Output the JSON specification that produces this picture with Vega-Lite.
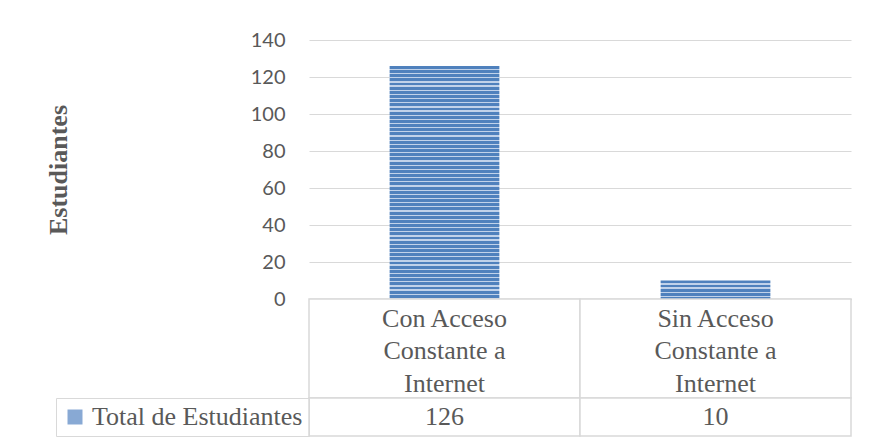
{
  "$schema": "https://vega.github.io/schema/vega-lite/v6.json",
  "padding": {"left": 45, "top": 30, "right": 20, "bottom": 9},
  "background": "white",
  "data": {
    "values": [
      {"acceso": "Con Acceso\nConstante a\nInternet", "estudiantes": 126, "serie": "Total de Estudiantes"},
      {"acceso": "Sin Acceso\nConstante a\nInternet", "estudiantes": 10, "serie": "Total de Estudiantes"}
    ]
  },
  "spacing": 0,
  "bounds": "flush",
  "resolve": {"scale": {"shape": "independent"}, "legend": {"shape": "independent"}},
  "config": {
    "view": {"stroke": null},
    "text": {"font": "Liberation Serif"}
  },
  "vconcat": [
    {
      "width": 542,
      "height": 259,
      "mark": {"type": "bar", "width": {"band": 0.405}},
      "encoding": {
        "x": {
          "field": "acceso",
          "type": "nominal",
          "scale": {"paddingInner": 0, "paddingOuter": 0},
          "axis": {"title": null, "labels": false, "ticks": false, "domainColor": "#bfbfbf", "domainWidth": 1.5}
        },
        "y": {
          "field": "estudiantes",
          "type": "quantitative",
          "scale": {"domain": [0, 140]},
          "axis": {
            "values": [0, 20, 40, 60, 80, 100, 120, 140],
            "grid": true,
            "gridColor": "#d9d9d9",
            "gridWidth": 1,
            "domain": false,
            "ticks": false,
            "labelFont": "Lato",
            "labelFontSize": 20,
            "labelColor": "#595959",
            "labelPadding": 24,
            "title": "Estudiantes",
            "titleFont": "Liberation Serif",
            "titleFontSize": 26,
            "titleFontWeight": "bold",
            "titleColor": "#595959",
            "titleX": -251,
            "titleY": 129.5,
            "titleAngle": -90,
            "titleAlign": "center",
            "titleBaseline": "middle"
          }
        },
        "fill": {
          "condition": {
            "test": "datum.estudiantes > 50",
            "value": {
              "gradient": "linear", "x1": 0, "y1": 0, "x2": 0, "y2": 1,
              "stops": [
                {"offset":0,"color":"#4f81bd"},{"offset":0.0125,"color":"#4f81bd"},{"offset":0.0125,"color":"#c0d2ea"},{"offset":0.0179,"color":"#c0d2ea"},
                {"offset":0.0179,"color":"#4f81bd"},{"offset":0.0304,"color":"#4f81bd"},{"offset":0.0304,"color":"#c0d2ea"},{"offset":0.0357,"color":"#c0d2ea"},
                {"offset":0.0357,"color":"#4f81bd"},{"offset":0.0482,"color":"#4f81bd"},{"offset":0.0482,"color":"#c0d2ea"},{"offset":0.0536,"color":"#c0d2ea"},
                {"offset":0.0536,"color":"#4f81bd"},{"offset":0.0661,"color":"#4f81bd"},{"offset":0.0661,"color":"#c0d2ea"},{"offset":0.0714,"color":"#c0d2ea"},
                {"offset":0.0714,"color":"#4f81bd"},{"offset":0.0839,"color":"#4f81bd"},{"offset":0.0839,"color":"#c0d2ea"},{"offset":0.0893,"color":"#c0d2ea"},
                {"offset":0.0893,"color":"#4f81bd"},{"offset":0.1018,"color":"#4f81bd"},{"offset":0.1018,"color":"#c0d2ea"},{"offset":0.1071,"color":"#c0d2ea"},
                {"offset":0.1071,"color":"#4f81bd"},{"offset":0.1196,"color":"#4f81bd"},{"offset":0.1196,"color":"#c0d2ea"},{"offset":0.125,"color":"#c0d2ea"},
                {"offset":0.125,"color":"#4f81bd"},{"offset":0.1375,"color":"#4f81bd"},{"offset":0.1375,"color":"#c0d2ea"},{"offset":0.1429,"color":"#c0d2ea"},
                {"offset":0.1429,"color":"#4f81bd"},{"offset":0.1554,"color":"#4f81bd"},{"offset":0.1554,"color":"#c0d2ea"},{"offset":0.1607,"color":"#c0d2ea"},
                {"offset":0.1607,"color":"#4f81bd"},{"offset":0.1732,"color":"#4f81bd"},{"offset":0.1732,"color":"#c0d2ea"},{"offset":0.1786,"color":"#c0d2ea"},
                {"offset":0.1786,"color":"#4f81bd"},{"offset":0.1911,"color":"#4f81bd"},{"offset":0.1911,"color":"#c0d2ea"},{"offset":0.1964,"color":"#c0d2ea"},
                {"offset":0.1964,"color":"#4f81bd"},{"offset":0.2089,"color":"#4f81bd"},{"offset":0.2089,"color":"#c0d2ea"},{"offset":0.2143,"color":"#c0d2ea"},
                {"offset":0.2143,"color":"#4f81bd"},{"offset":0.2268,"color":"#4f81bd"},{"offset":0.2268,"color":"#c0d2ea"},{"offset":0.2321,"color":"#c0d2ea"},
                {"offset":0.2321,"color":"#4f81bd"},{"offset":0.2446,"color":"#4f81bd"},{"offset":0.2446,"color":"#c0d2ea"},{"offset":0.25,"color":"#c0d2ea"},
                {"offset":0.25,"color":"#4f81bd"},{"offset":0.2625,"color":"#4f81bd"},{"offset":0.2625,"color":"#c0d2ea"},{"offset":0.2679,"color":"#c0d2ea"},
                {"offset":0.2679,"color":"#4f81bd"},{"offset":0.2804,"color":"#4f81bd"},{"offset":0.2804,"color":"#c0d2ea"},{"offset":0.2857,"color":"#c0d2ea"},
                {"offset":0.2857,"color":"#4f81bd"},{"offset":0.2982,"color":"#4f81bd"},{"offset":0.2982,"color":"#c0d2ea"},{"offset":0.3036,"color":"#c0d2ea"},
                {"offset":0.3036,"color":"#4f81bd"},{"offset":0.3161,"color":"#4f81bd"},{"offset":0.3161,"color":"#c0d2ea"},{"offset":0.3214,"color":"#c0d2ea"},
                {"offset":0.3214,"color":"#4f81bd"},{"offset":0.3339,"color":"#4f81bd"},{"offset":0.3339,"color":"#c0d2ea"},{"offset":0.3393,"color":"#c0d2ea"},
                {"offset":0.3393,"color":"#4f81bd"},{"offset":0.3518,"color":"#4f81bd"},{"offset":0.3518,"color":"#c0d2ea"},{"offset":0.3571,"color":"#c0d2ea"},
                {"offset":0.3571,"color":"#4f81bd"},{"offset":0.3696,"color":"#4f81bd"},{"offset":0.3696,"color":"#c0d2ea"},{"offset":0.375,"color":"#c0d2ea"},
                {"offset":0.375,"color":"#4f81bd"},{"offset":0.3875,"color":"#4f81bd"},{"offset":0.3875,"color":"#c0d2ea"},{"offset":0.3929,"color":"#c0d2ea"},
                {"offset":0.3929,"color":"#4f81bd"},{"offset":0.4054,"color":"#4f81bd"},{"offset":0.4054,"color":"#c0d2ea"},{"offset":0.4107,"color":"#c0d2ea"},
                {"offset":0.4107,"color":"#4f81bd"},{"offset":0.4232,"color":"#4f81bd"},{"offset":0.4232,"color":"#c0d2ea"},{"offset":0.4286,"color":"#c0d2ea"},
                {"offset":0.4286,"color":"#4f81bd"},{"offset":0.4411,"color":"#4f81bd"},{"offset":0.4411,"color":"#c0d2ea"},{"offset":0.4464,"color":"#c0d2ea"},
                {"offset":0.4464,"color":"#4f81bd"},{"offset":0.4589,"color":"#4f81bd"},{"offset":0.4589,"color":"#c0d2ea"},{"offset":0.4643,"color":"#c0d2ea"},
                {"offset":0.4643,"color":"#4f81bd"},{"offset":0.4768,"color":"#4f81bd"},{"offset":0.4768,"color":"#c0d2ea"},{"offset":0.4821,"color":"#c0d2ea"},
                {"offset":0.4821,"color":"#4f81bd"},{"offset":0.4946,"color":"#4f81bd"},{"offset":0.4946,"color":"#c0d2ea"},{"offset":0.5,"color":"#c0d2ea"},
                {"offset":0.5,"color":"#4f81bd"},{"offset":0.5125,"color":"#4f81bd"},{"offset":0.5125,"color":"#c0d2ea"},{"offset":0.5179,"color":"#c0d2ea"},
                {"offset":0.5179,"color":"#4f81bd"},{"offset":0.5304,"color":"#4f81bd"},{"offset":0.5304,"color":"#c0d2ea"},{"offset":0.5357,"color":"#c0d2ea"},
                {"offset":0.5357,"color":"#4f81bd"},{"offset":0.5482,"color":"#4f81bd"},{"offset":0.5482,"color":"#c0d2ea"},{"offset":0.5536,"color":"#c0d2ea"},
                {"offset":0.5536,"color":"#4f81bd"},{"offset":0.5661,"color":"#4f81bd"},{"offset":0.5661,"color":"#c0d2ea"},{"offset":0.5714,"color":"#c0d2ea"},
                {"offset":0.5714,"color":"#4f81bd"},{"offset":0.5839,"color":"#4f81bd"},{"offset":0.5839,"color":"#c0d2ea"},{"offset":0.5893,"color":"#c0d2ea"},
                {"offset":0.5893,"color":"#4f81bd"},{"offset":0.6018,"color":"#4f81bd"},{"offset":0.6018,"color":"#c0d2ea"},{"offset":0.6071,"color":"#c0d2ea"},
                {"offset":0.6071,"color":"#4f81bd"},{"offset":0.6196,"color":"#4f81bd"},{"offset":0.6196,"color":"#c0d2ea"},{"offset":0.625,"color":"#c0d2ea"},
                {"offset":0.625,"color":"#4f81bd"},{"offset":0.6375,"color":"#4f81bd"},{"offset":0.6375,"color":"#c0d2ea"},{"offset":0.6429,"color":"#c0d2ea"},
                {"offset":0.6429,"color":"#4f81bd"},{"offset":0.6554,"color":"#4f81bd"},{"offset":0.6554,"color":"#c0d2ea"},{"offset":0.6607,"color":"#c0d2ea"},
                {"offset":0.6607,"color":"#4f81bd"},{"offset":0.6732,"color":"#4f81bd"},{"offset":0.6732,"color":"#c0d2ea"},{"offset":0.6786,"color":"#c0d2ea"},
                {"offset":0.6786,"color":"#4f81bd"},{"offset":0.6911,"color":"#4f81bd"},{"offset":0.6911,"color":"#c0d2ea"},{"offset":0.6964,"color":"#c0d2ea"},
                {"offset":0.6964,"color":"#4f81bd"},{"offset":0.7089,"color":"#4f81bd"},{"offset":0.7089,"color":"#c0d2ea"},{"offset":0.7143,"color":"#c0d2ea"},
                {"offset":0.7143,"color":"#4f81bd"},{"offset":0.7268,"color":"#4f81bd"},{"offset":0.7268,"color":"#c0d2ea"},{"offset":0.7321,"color":"#c0d2ea"},
                {"offset":0.7321,"color":"#4f81bd"},{"offset":0.7446,"color":"#4f81bd"},{"offset":0.7446,"color":"#c0d2ea"},{"offset":0.75,"color":"#c0d2ea"},
                {"offset":0.75,"color":"#4f81bd"},{"offset":0.7625,"color":"#4f81bd"},{"offset":0.7625,"color":"#c0d2ea"},{"offset":0.7679,"color":"#c0d2ea"},
                {"offset":0.7679,"color":"#4f81bd"},{"offset":0.7804,"color":"#4f81bd"},{"offset":0.7804,"color":"#c0d2ea"},{"offset":0.7857,"color":"#c0d2ea"},
                {"offset":0.7857,"color":"#4f81bd"},{"offset":0.7982,"color":"#4f81bd"},{"offset":0.7982,"color":"#c0d2ea"},{"offset":0.8036,"color":"#c0d2ea"},
                {"offset":0.8036,"color":"#4f81bd"},{"offset":0.8161,"color":"#4f81bd"},{"offset":0.8161,"color":"#c0d2ea"},{"offset":0.8214,"color":"#c0d2ea"},
                {"offset":0.8214,"color":"#4f81bd"},{"offset":0.8339,"color":"#4f81bd"},{"offset":0.8339,"color":"#c0d2ea"},{"offset":0.8393,"color":"#c0d2ea"},
                {"offset":0.8393,"color":"#4f81bd"},{"offset":0.8518,"color":"#4f81bd"},{"offset":0.8518,"color":"#c0d2ea"},{"offset":0.8571,"color":"#c0d2ea"},
                {"offset":0.8571,"color":"#4f81bd"},{"offset":0.8696,"color":"#4f81bd"},{"offset":0.8696,"color":"#c0d2ea"},{"offset":0.875,"color":"#c0d2ea"},
                {"offset":0.875,"color":"#4f81bd"},{"offset":0.8875,"color":"#4f81bd"},{"offset":0.8875,"color":"#c0d2ea"},{"offset":0.8929,"color":"#c0d2ea"},
                {"offset":0.8929,"color":"#4f81bd"},{"offset":0.9054,"color":"#4f81bd"},{"offset":0.9054,"color":"#c0d2ea"},{"offset":0.9107,"color":"#c0d2ea"},
                {"offset":0.9107,"color":"#4f81bd"},{"offset":0.9232,"color":"#4f81bd"},{"offset":0.9232,"color":"#c0d2ea"},{"offset":0.9286,"color":"#c0d2ea"},
                {"offset":0.9286,"color":"#4f81bd"},{"offset":0.9411,"color":"#4f81bd"},{"offset":0.9411,"color":"#c0d2ea"},{"offset":0.9464,"color":"#c0d2ea"},
                {"offset":0.9464,"color":"#4f81bd"},{"offset":0.9589,"color":"#4f81bd"},{"offset":0.9589,"color":"#c0d2ea"},{"offset":0.9643,"color":"#c0d2ea"},
                {"offset":0.9643,"color":"#4f81bd"},{"offset":0.9768,"color":"#4f81bd"},{"offset":0.9768,"color":"#c0d2ea"},{"offset":0.9821,"color":"#c0d2ea"},
                {"offset":0.9821,"color":"#4f81bd"},{"offset":0.9946,"color":"#4f81bd"},{"offset":0.9946,"color":"#c0d2ea"},{"offset":1,"color":"#c0d2ea"}
              ]
            }
          },
          "value": {
            "gradient": "linear", "x1": 0, "y1": 0, "x2": 0, "y2": 1,
            "stops": [
              {"offset":0,"color":"#4f81bd"},{"offset":0.1556,"color":"#4f81bd"},{"offset":0.1556,"color":"#c0d2ea"},{"offset":0.2222,"color":"#c0d2ea"},
              {"offset":0.2222,"color":"#4f81bd"},{"offset":0.3778,"color":"#4f81bd"},{"offset":0.3778,"color":"#c0d2ea"},{"offset":0.4444,"color":"#c0d2ea"},
              {"offset":0.4444,"color":"#4f81bd"},{"offset":0.6,"color":"#4f81bd"},{"offset":0.6,"color":"#c0d2ea"},{"offset":0.6667,"color":"#c0d2ea"},
              {"offset":0.6667,"color":"#4f81bd"},{"offset":0.8222,"color":"#4f81bd"},{"offset":0.8222,"color":"#c0d2ea"},{"offset":0.8889,"color":"#c0d2ea"},
              {"offset":0.8889,"color":"#4f81bd"},{"offset":1,"color":"#4f81bd"}
            ]
          }
        }
      }
    },
    {
      "width": 542,
      "height": 99,
      "layer": [
        {
          "mark": {"type": "rect", "fill": "white", "stroke": "#d9d9d9", "strokeWidth": 1.5},
          "encoding": {
            "x": {"field": "acceso", "type": "nominal", "scale": {"paddingInner": 0, "paddingOuter": 0}, "axis": null}
          }
        },
        {
          "mark": {
            "type": "text",
            "font": "Liberation Serif",
            "fontSize": 26,
            "lineHeight": 32.5,
            "lineBreak": "\n",
            "color": "#595959",
            "align": "center",
            "baseline": "middle",
            "dy": -30
          },
          "encoding": {
            "x": {"field": "acceso", "type": "nominal", "axis": null},
            "text": {"field": "acceso", "type": "nominal"}
          }
        }
      ]
    },
    {
      "width": 542,
      "height": 38,
      "layer": [
        {
          "mark": {"type": "rect", "fill": "white", "stroke": "#d9d9d9", "strokeWidth": 1.5},
          "encoding": {
            "x": {"field": "acceso", "type": "nominal", "scale": {"paddingInner": 0, "paddingOuter": 0}, "axis": null}
          }
        },
        {
          "mark": {
            "type": "text",
            "font": "Liberation Serif",
            "fontSize": 26,
            "color": "#595959",
            "align": "center",
            "baseline": "middle"
          },
          "encoding": {
            "x": {"field": "acceso", "type": "nominal", "axis": null},
            "text": {"field": "estudiantes", "type": "quantitative"}
          }
        },
        {
          "mark": {"type": "point", "filled": true, "color": "#5584c2", "size": 0},
          "encoding": {
            "x": {"field": "acceso", "type": "nominal", "axis": null},
            "shape": {
              "field": "serie",
              "type": "nominal",
              "scale": {"range": ["square"]},
              "legend": {
                "orient": "left",
                "offset": 0,
                "title": null,
                "padding": 6,
                "strokeColor": "#d9d9d9",
                "symbolType": "square",
                "symbolSize": 225,
                "symbolFillColor": "#5584c2",
                "symbolStrokeWidth": 0,
                "symbolOffset": 0,
                "labelOffset": 4,
                "labelFont": "Liberation Serif",
                "labelFontSize": 26,
                "labelColor": "#595959",
                "labelLimit": 400
              }
            }
          }
        }
      ]
    }
  ]
}
